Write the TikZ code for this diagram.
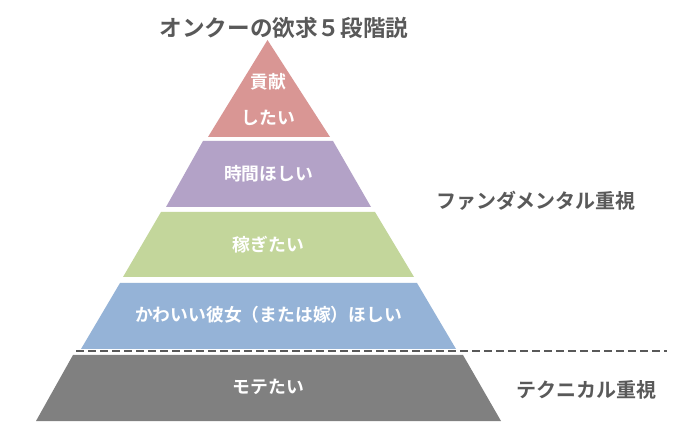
\documentclass[tikz,border=0pt]{standalone}
\usepackage{fontspec}
\newfontfamily\jpb{Noto Sans CJK JP Bold}
\definecolor{cpink}{HTML}{D99694}
\definecolor{cpurple}{HTML}{B3A2C7}
\definecolor{cgreen}{HTML}{C3D69B}
\definecolor{cblue}{HTML}{95B3D7}
\definecolor{cgray}{HTML}{808080}
\definecolor{ctext}{HTML}{595959}
\begin{document}
\begin{tikzpicture}[x=1pt,y=-1pt,
  layertext/.style={text=white,font=\jpb\fontsize{17.8}{20}\selectfont,inner sep=0pt},
  sidelabel/.style={text=ctext,font=\jpb\fontsize{20}{22}\selectfont,inner sep=0pt},
  divider/.style={draw=ctext,line width=1.6pt,dash pattern=on 8pt off 4pt}]
\fill[white] (0,0) rectangle (696,443);
\useasboundingbox (0,0) rectangle (696,443);
% layers
\fill[cpink] (267.5,40) -- (330,137) -- (208,137) -- cycle;
\fill[cpurple] (203,141) -- (333,141) -- (371,207) -- (166,207) -- cycle;
\fill[cgreen] (161,212) -- (375,212) -- (414,277) -- (123,277) -- cycle;
\fill[cblue] (120,283) -- (417,283) -- (456,349) -- (81,349) -- cycle;
\fill[cgray] (73,355) -- (463,355) -- (501,421) -- (36,421) -- cycle;
% title
\node[text=ctext,font=\jpb\fontsize{22.6}{25}\selectfont,inner sep=0pt] (title) at (284,28) {オンクーの欲求５段階説};
% layer texts
\node[layertext] (t1a) at (268.5,82) {貢献};
\node[layertext] (t1b) at (268.5,118) {したい};
\node[layertext] (t2) at (268.5,174) {時間ほしい};
\node[layertext] (t3) at (268.5,245) {稼ぎたい};
\node[layertext] (t4) at (268.5,315) {かわいい彼女（または嫁）ほしい};
\node[layertext] (t5) at (268.5,387) {モテたい};
% side labels
\node[sidelabel,anchor=west] (fund) at (436,201) {ファンダメンタル重視};
\node[sidelabel,anchor=west] (tech) at (516,390) {テクニカル重視};
% dashed divider
\coordinate (dl) at (76,351);
\coordinate (dr) at (667,351);
\draw[divider] (dl) -- (dr);
\end{tikzpicture}
\end{document}
